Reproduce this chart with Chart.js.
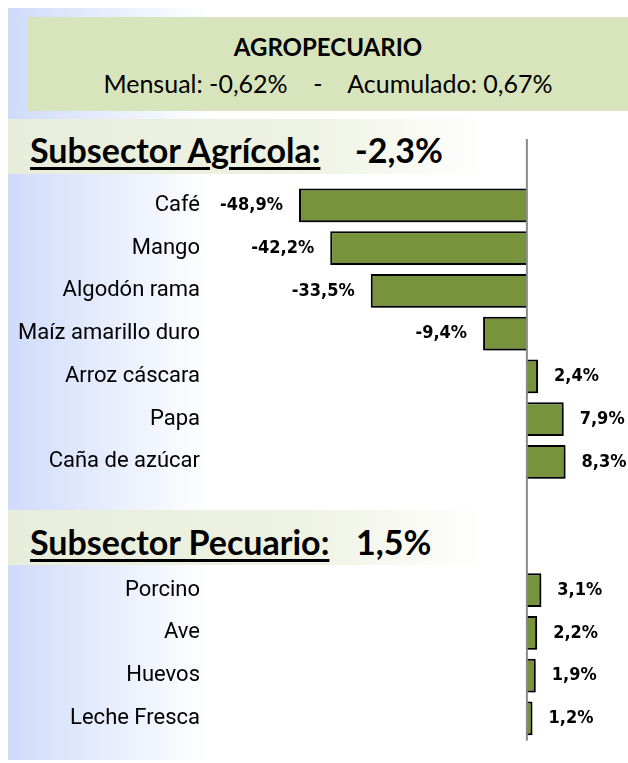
<!DOCTYPE html>
<html>
<head>
<meta charset="utf-8">
<script src="https://cdn.jsdelivr.net/npm/chart.js@4.4.1/dist/chart.umd.min.js"></script>
<style>
  body { margin: 0; background: #fff; }
  #wrap { position: relative; width: 628px; height: 763px; overflow: hidden; }
  .fade { position: absolute; left: 8px; top: 8px; width: 200px; height: 752px;
          background: linear-gradient(to right, #cfdbfb, #ffffff); }
  .header { position: absolute; left: 28px; top: 17px; width: 600px; height: 94px;
            background: #d8e4bc; text-align: center; font-family: Lato, sans-serif; color: #000; }
  .header .t1 { position: absolute; left: 0; right: 0; top: 15px; font-weight: bold; font-size: 24px; }
  .header .t2 { position: absolute; left: 0; right: 0; top: 51px; font-size: 25px; }
  .band { position: absolute; left: 8px; width: 480px; height: 55px;
          background: linear-gradient(to right, #e8eddb, #eef2e2 60%, #ffffff); }
  .band span { position: absolute; font-family: Lato, sans-serif; font-weight: bold;
               font-size: 34px; line-height: 41px; color: #000; white-space: nowrap; }
  .band .u { left: 22px; text-decoration: underline; text-decoration-thickness: 3px; text-underline-offset: 4px; }
  canvas { position: absolute; left: 0; top: 0; }
</style>
</head>
<body>
<div id="wrap">
  <div class="fade"></div>
  <div class="header">
    <div class="t1" id="h1"></div>
    <div class="t2" id="h2"></div>
  </div>
  <div class="band" style="top:119px"><span class="u" id="s1" style="top:10px"></span><span id="v1" style="left:347px;top:10px"></span></div>
  <div class="band" style="top:510px"><span class="u" id="s2" style="top:11px"></span><span id="v2" style="left:348px;top:11px"></span></div>
  <canvas id="chart" width="628" height="763"></canvas>
</div>
<script>
// texts
const headerTitle = 'AGROPECUARIO';
const headerSub = 'Mensual: -0,62%    -    Acumulado: 0,67%';
const sectionTitles = ['Subsector Agrícola:', 'Subsector Pecuario:'];
const sectionValues = ['-2,3%', '1,5%'];

// data
const agricolaLabels = ['Café', 'Mango', 'Algodón rama', 'Maíz amarillo duro', 'Arroz cáscara', 'Papa', 'Caña de azúcar'];
const agricolaValues = [-48.9, -42.2, -33.5, -9.4, 2.4, 7.9, 8.3];
const pecuarioLabels = ['Porcino', 'Ave', 'Huevos', 'Leche Fresca'];
const pecuarioValues = [3.1, 2.2, 1.9, 1.2];

document.getElementById('h1').textContent = headerTitle;
document.getElementById('h2').textContent = headerSub.replace(/ /g, '\u00a0');
document.getElementById('s1').textContent = sectionTitles[0];
document.getElementById('s2').textContent = sectionTitles[1];
document.getElementById('v1').textContent = sectionValues[0];
document.getElementById('v2').textContent = sectionValues[1];

// two empty rows between the sections leave room for the second title
const labels = agricolaLabels.concat(['', ''], pecuarioLabels);
const values = agricolaValues.concat([null, null], pecuarioValues);

const fmt = v => v.toFixed(1).replace('.', ',') + '%';

const barShadow = {
  id: 'barShadow',
  beforeDatasetsDraw(chart) {
    const ctx = chart.ctx;
    ctx.save();
    ctx.shadowColor = 'rgba(0,0,0,0.4)';
    ctx.shadowBlur = 5;
    ctx.shadowOffsetX = 3;
    ctx.shadowOffsetY = 3;
  },
  afterDatasetsDraw(chart) {
    chart.ctx.restore();
  }
};

const zeroLine = {
  id: 'zeroLine',
  afterDatasetsDraw(chart) {
    const ctx = chart.ctx;
    const x = chart.scales.x.getPixelForValue(0);
    ctx.save();
    ctx.strokeStyle = '#8a8a8a';
    ctx.lineWidth = 2;
    ctx.beginPath();
    ctx.moveTo(x, chart.chartArea.top - 45);
    ctx.lineTo(x, chart.chartArea.bottom + 1);
    ctx.stroke();
    ctx.restore();
  }
};

const valueLabels = {
  id: 'valueLabels',
  afterDraw(chart) {
    const ctx = chart.ctx;
    const meta = chart.getDatasetMeta(0);
    ctx.save();
    ctx.font = 'bold 18px "DejaVu Sans Condensed", sans-serif';
    ctx.fillStyle = '#000';
    ctx.textBaseline = 'middle';
    meta.data.forEach((bar, i) => {
      const v = values[i];
      if (v === null) return;
      if (v < 0) {
        ctx.textAlign = 'right';
        ctx.fillText(fmt(v), bar.x - 16, bar.y);
      } else {
        ctx.textAlign = 'left';
        ctx.fillText(fmt(v), bar.x + 16, bar.y);
      }
    });
    ctx.restore();
  }
};

new Chart(document.getElementById('chart'), {
  type: 'bar',
  data: {
    labels: labels,
    datasets: [{
      data: values,
      backgroundColor: '#77933c',
      borderColor: '#000000',
      borderWidth: 2,
      barPercentage: 0.79,
      categoryPercentage: 1
    }]
  },
  options: {
    indexAxis: 'y',
    responsive: false,
    animation: false,
    layout: { padding: { top: 184, bottom: 21, left: 0, right: 0 } },
    plugins: { legend: { display: false }, tooltip: { enabled: false } },
    scales: {
      x: { min: -68, max: 21.7, display: false },
      y: {
        grid: { display: false, drawTicks: false },
        border: { display: false },
        afterFit(scale) { scale.width = 210; },
        ticks: {
          color: '#000',
          padding: 10,
          font: { family: 'Roboto, sans-serif', size: 22 }
        }
      }
    }
  },
  plugins: [barShadow, zeroLine, valueLabels]
});
</script>
</body>
</html>
